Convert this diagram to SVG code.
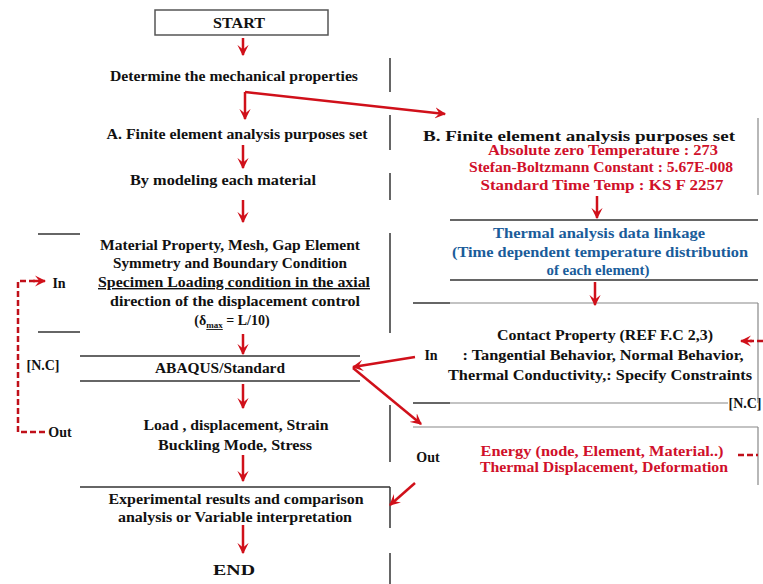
<svg xmlns="http://www.w3.org/2000/svg" width="763" height="584" viewBox="0 0 763 584">
<defs>
<style>
.t{font-weight:bold;font-size:14px;fill:#111;text-anchor:middle}
.r{fill:#d0102a}
.b{fill:#1a5c9a}
.ln{stroke:#333;stroke-width:1.5;fill:none}
.lg{stroke:#888;stroke-width:1.2;fill:none}
.ra{stroke:#d0101a;stroke-width:2.5;fill:none;marker-end:url(#ah)}
.rd{stroke:#c0101a;stroke-width:2.5;fill:none;stroke-dasharray:6,3}
</style>
<marker id="ah" viewBox="0 0 10 10" refX="9" refY="5" markerWidth="4.5" markerHeight="4.5" orient="auto" markerUnits="strokeWidth">
<path d="M0,0 L10,5 L0,10 L4,5 z" fill="#d0101a"/>
</marker>
</defs>
<rect width="763" height="584" fill="#fff"/>
<g font-family="'Liberation Serif', 'Times New Roman', 'DejaVu Serif', serif">
<g id="start">
<rect x="155" y="10" width="173" height="25" fill="#fff" stroke="#555" stroke-width="1.5"/>
<text class="t" x="239" y="28" textLength="52" lengthAdjust="spacingAndGlyphs">START</text>
</g>
<g id="determine"><text class="t" x="234" y="81" textLength="248" lengthAdjust="spacingAndGlyphs">Determine the mechanical properties</text></g>
<g id="stepA"><text class="t" x="237" y="139" textLength="261" lengthAdjust="spacingAndGlyphs">A. Finite element analysis purposes set</text></g>
<g id="modeling"><text class="t" x="223" y="185" textLength="186" lengthAdjust="spacingAndGlyphs">By modeling each material</text></g>
<g id="material">
<text class="t" x="230" y="250" textLength="260" lengthAdjust="spacingAndGlyphs">Material Property, Mesh, Gap Element</text>
<text class="t" x="230" y="268" textLength="234" lengthAdjust="spacingAndGlyphs">Symmetry and Boundary Condition</text>
<text class="t" x="234" y="287" textLength="272" lengthAdjust="spacingAndGlyphs" text-decoration="underline">Specimen Loading condition in the axial</text>
<text class="t" x="235" y="306" textLength="250" lengthAdjust="spacingAndGlyphs">direction of the displacement control</text>
<text class="t" x="232" y="325">(δ<tspan font-size="9" dy="3" text-decoration="underline">max</tspan><tspan dy="-3"> = L/10)</tspan></text>
</g>
<g id="abaqus"><text class="t" x="220" y="373" textLength="130" lengthAdjust="spacingAndGlyphs">ABAQUS/Standard</text></g>
<g id="load">
<text class="t" x="236" y="430" textLength="185" lengthAdjust="spacingAndGlyphs">Load , displacement, Strain</text>
<text class="t" x="235" y="450" textLength="154" lengthAdjust="spacingAndGlyphs">Buckling Mode, Stress</text>
</g>
<g id="experimental">
<text class="t" x="236" y="504" textLength="255" lengthAdjust="spacingAndGlyphs">Experimental results and comparison</text>
<text class="t" x="235" y="522" textLength="234" lengthAdjust="spacingAndGlyphs">analysis or Variable interpretation</text>
</g>
<g id="end"><text class="t" x="234" y="575" textLength="42" lengthAdjust="spacingAndGlyphs">END</text></g>

<g id="stepB">
<text class="t" x="579" y="141" textLength="312" lengthAdjust="spacingAndGlyphs">B. Finite element analysis purposes set</text>
<text class="t r" x="603" y="155" textLength="230" lengthAdjust="spacingAndGlyphs">Absolute zero Temperature :  273</text>
<text class="t r" x="601" y="172" textLength="264" lengthAdjust="spacingAndGlyphs">Stefan-Boltzmann Constant : 5.67E-008</text>
<text class="t r" x="602" y="190" textLength="243" lengthAdjust="spacingAndGlyphs">Standard Time Temp : KS F 2257</text>
</g>
<g id="thermal">
<text class="t b" x="599" y="238" textLength="212" lengthAdjust="spacingAndGlyphs">Thermal analysis data linkage</text>
<text class="t b" x="600" y="257" textLength="296" lengthAdjust="spacingAndGlyphs">(Time dependent temperature distribution</text>
<text class="t b" x="598" y="275" textLength="103" lengthAdjust="spacingAndGlyphs">of each element)</text>
</g>
<g id="contact">
<text class="t" x="605" y="340" textLength="216" lengthAdjust="spacingAndGlyphs">Contact Property (REF F.C 2,3)</text>
<text class="t" x="603" y="360" textLength="281" lengthAdjust="spacingAndGlyphs">: Tangential Behavior, Normal Behavior,</text>
<text class="t" x="600" y="380" textLength="304" lengthAdjust="spacingAndGlyphs">Thermal Conductivity,: Specify Constraints</text>
</g>
<g id="energy">
<text class="t r" x="602" y="456" font-size="13" textLength="243" lengthAdjust="spacingAndGlyphs">Energy  (node, Element, Material..)</text>
<text class="t r" x="604" y="472" font-size="13" textLength="248" lengthAdjust="spacingAndGlyphs">Thermal Displacement, Deformation</text>
</g>
<g id="labels">
<text class="t" x="59" y="288">In</text>
<text class="t" x="43" y="370">[N.C]</text>
<text class="t" x="60" y="437">Out</text>
<text class="t" x="431" y="360">In</text>
<text class="t" x="428" y="462">Out</text>
<text class="t" x="745" y="408">[N.C]</text>
</g>
</g>

<g id="connectors">
<line class="ln" x1="390" y1="58" x2="390" y2="92"/>
<line class="ln" x1="390" y1="115" x2="390" y2="150"/>
<line class="ln" x1="390" y1="173" x2="390" y2="200"/>
<line class="ln" x1="390" y1="233" x2="390" y2="333"/>
<line class="ln" x1="390" y1="405" x2="390" y2="462"/>
<line class="ln" x1="390" y1="487" x2="390" y2="528"/>
<line class="ln" x1="390" y1="553" x2="390" y2="584"/>
<line class="ln" x1="38" y1="234" x2="80" y2="234"/>
<line class="ln" x1="38" y1="332" x2="80" y2="332"/>
<line class="ln" x1="80" y1="356" x2="360" y2="356"/>
<line class="ln" x1="80" y1="381" x2="360" y2="381"/>
<line class="ln" x1="80" y1="487" x2="390" y2="487"/>
<line class="lg" x1="758" y1="118" x2="758" y2="195"/>
<line class="ln" x1="450" y1="220" x2="758" y2="220"/>
<line class="ln" x1="450" y1="280" x2="758" y2="280"/>
<line class="ln" x1="413" y1="303" x2="450" y2="303"/>
<line class="lg" x1="450" y1="303" x2="758" y2="303"/>
<line class="lg" x1="758" y1="303" x2="758" y2="403"/>
<line class="ln" x1="413" y1="403" x2="450" y2="403"/>
<line class="lg" x1="450" y1="403" x2="728" y2="403"/>
<line class="lg" x1="413" y1="427" x2="758" y2="427"/>
<line class="lg" x1="758" y1="427" x2="758" y2="485"/>

<line class="ra" x1="243" y1="38" x2="243" y2="55"/>
<path class="ra" d="M245,92 L445,114"/>
<line class="ra" x1="245" y1="92" x2="245" y2="119"/>
<line class="ra" x1="243" y1="145" x2="243" y2="168"/>
<line class="ra" x1="243" y1="200" x2="243" y2="222"/>
<line class="ra" x1="243" y1="334" x2="243" y2="354"/>
<line class="ra" x1="243" y1="384" x2="243" y2="408"/>
<line class="ra" x1="243" y1="455" x2="243" y2="481"/>
<line class="ra" x1="243" y1="525" x2="243" y2="553"/>
<line class="ra" x1="597" y1="196" x2="597" y2="218"/>
<line class="ra" x1="595" y1="282" x2="595" y2="305"/>
<line class="ra" x1="415" y1="357" x2="353" y2="367"/>
<line class="ra" x1="353" y1="368" x2="421" y2="424"/>
<line class="ra" x1="415" y1="483" x2="390" y2="505"/>

<path class="rd" d="M45,432 L18,432 L18,281 L35,281"/>
<line class="ra" x1="33" y1="281" x2="45" y2="281"/>
<line class="rd" x1="763" y1="341" x2="750" y2="341"/>
<line class="ra" x1="752" y1="341" x2="741" y2="341"/>
<line class="rd" x1="738" y1="455" x2="758" y2="455"/>
</g>
</svg>
